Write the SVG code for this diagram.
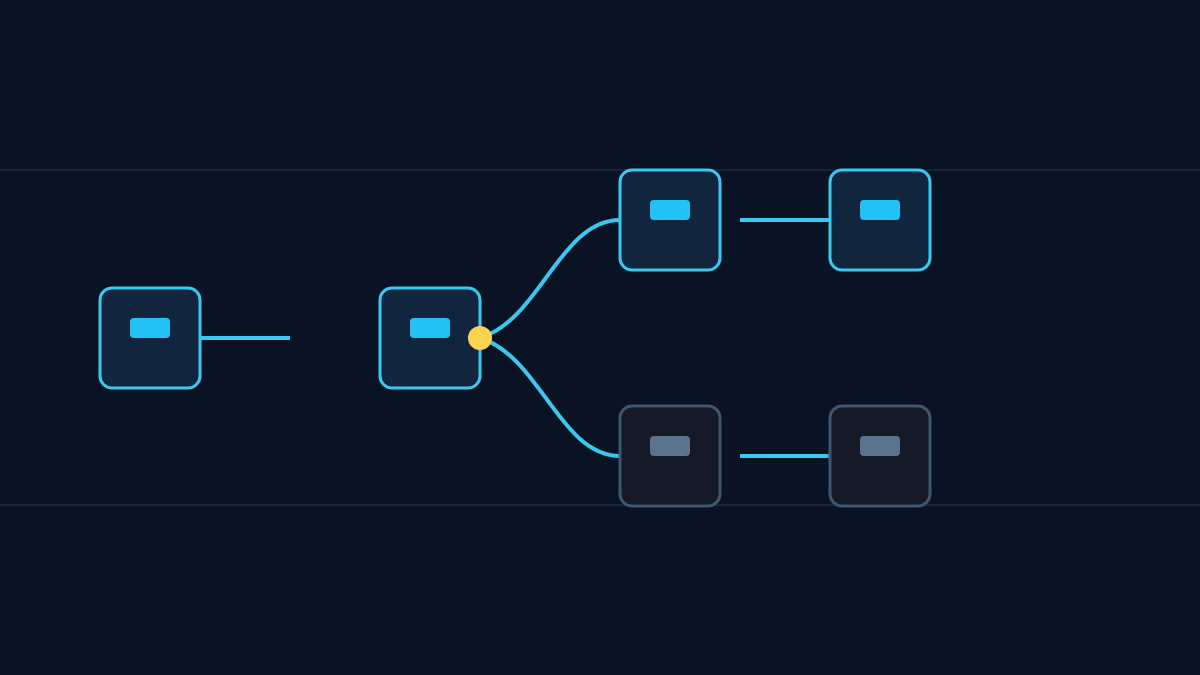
<svg xmlns="http://www.w3.org/2000/svg" width="1200" height="675" viewBox="0 0 1200 675">
<style>
.n rect.b{fill:#11253f;stroke:#38c8f0;stroke-width:3}
.n rect.i{fill:#22c2f5}
.g rect.b{fill:#141b26;stroke:#3e5670;stroke-width:3}
.g rect.i{fill:#5b738d}
.c{fill:none;stroke:#38c8f0;stroke-width:4}
.r{stroke:#1b2c40;stroke-width:1.5}
</style>
<rect width="1200" height="675" fill="#0a1323"/>
<line class="r" x1="0" y1="170" x2="1200" y2="170"/>
<line class="r" x1="0" y1="505" x2="1200" y2="505"/>
<g id="connectors">
<line class="c" x1="200" y1="338" x2="290" y2="338"/>
<path class="c" d="M480,338 C540,320 560,220 620,220"/>
<path class="c" d="M480,338 C540,356 560,456 620,456"/>
<line class="c" x1="740" y1="220" x2="830" y2="220"/>
<line class="c" x1="740" y1="456" x2="830" y2="456"/>
</g>
<g id="n1" class="n"><rect class="b" x="100" y="288" width="100" height="100" rx="12"/><rect class="i" x="130" y="318" width="40" height="20" rx="4"/></g>
<g id="n2" class="n"><rect class="b" x="380" y="288" width="100" height="100" rx="12"/><rect class="i" x="410" y="318" width="40" height="20" rx="4"/></g>
<g id="n3" class="n"><rect class="b" x="620" y="170" width="100" height="100" rx="12"/><rect class="i" x="650" y="200" width="40" height="20" rx="4"/></g>
<g id="n4" class="n"><rect class="b" x="830" y="170" width="100" height="100" rx="12"/><rect class="i" x="860" y="200" width="40" height="20" rx="4"/></g>
<g id="n5" class="g"><rect class="b" x="620" y="406" width="100" height="100" rx="12"/><rect class="i" x="650" y="436" width="40" height="20" rx="4"/></g>
<g id="n6" class="g"><rect class="b" x="830" y="406" width="100" height="100" rx="12"/><rect class="i" x="860" y="436" width="40" height="20" rx="4"/></g>
<circle id="dot" cx="480" cy="338" r="12" fill="#fdd251"/>
</svg>
